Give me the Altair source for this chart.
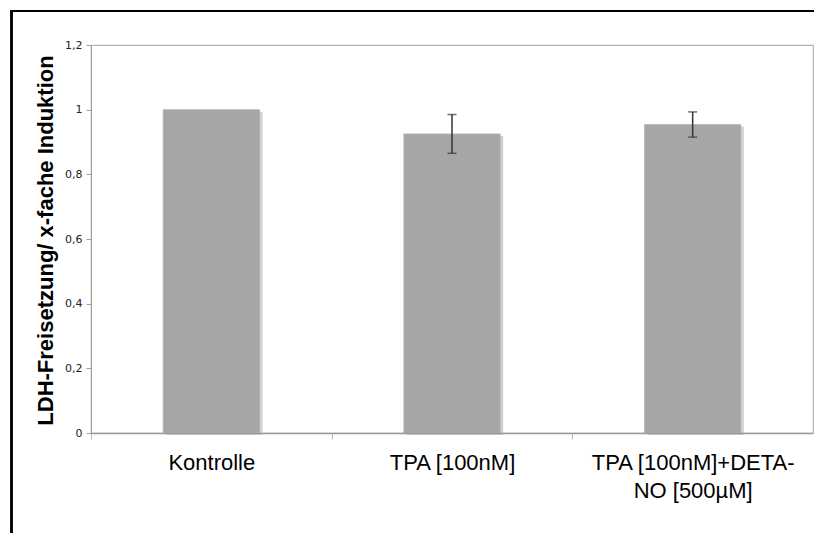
import altair as alt
import pandas as pd

# Treatment groups, fold induction of LDH release and their error margins
categories = ["Kontrolle", "TPA [100nM]", "TPA [100nM]+DETA-NO [500µM]"]
means = [1.0, 0.925, 0.954]
errors = [0.0, 0.06, 0.039]
y_ticks = [0, 0.2, 0.4, 0.6, 0.8, 1, 1.2]

df = pd.DataFrame({"gruppe": categories, "wert": means, "fehler": errors})
df["unten"] = df["wert"] - df["fehler"]
df["oben"] = df["wert"] + df["fehler"]
err_df = df[df["fehler"] > 0]

W, H = 722, 388
step = W / len(categories)

long_label = categories[2]
split_at = long_label.index("+DETA-") + len("+DETA-")
label_expr = (
    f"datum.label == '{long_label}' ? "
    f"['{long_label[:split_at]}', '{long_label[split_at:]}'] : datum.label"
)

x_enc = alt.X(
    "gruppe:N",
    sort=categories,
    scale=alt.Scale(paddingInner=0.6, paddingOuter=0.3),
    axis=alt.Axis(
        title=None,
        labelAngle=0,
        labelFont="Liberation Sans",
        labelFontSize=22,
        labelColor="#000000",
        labelPadding=13,
        labelLineHeight=28,
        labelLimit=400,
        labelExpr=label_expr,
        labelOffset=step / 2,
        tickOffset=-step / 2,
        tickSize=6,
        tickColor="#b8b8b8",
        domainColor="#9a9a9a",
        domainWidth=1.5,
        zindex=1,
    ),
)

y_scale = alt.Scale(domain=[0, 1.2], nice=False)
y_axis = alt.Axis(
    values=y_ticks,
    labelExpr="replace(toString(datum.value), '.', ',')",
    labelFont="DejaVu Sans",
    labelFontSize=11,
    labelColor="#222222",
    labelPadding=4,
    tickSize=5,
    tickColor="#a0a0a0",
    domainColor="#a0a0a0",
    grid=False,
    title="LDH-Freisetzung/ x-fache Induktion",
    titleFont="Liberation Sans",
    titleFontSize=22,
    titleFontWeight="bold",
    titleColor="#000000",
    titleAngle=-90,
    titleAlign="center",
    titleBaseline="middle",
    titleX=-46,
    titleY=195,
)

base = alt.Chart(df)

shadow = base.mark_bar(color="#d0d0d0", xOffset=3, yOffset=2).encode(
    x=x_enc, y=alt.Y("wert:Q", scale=y_scale, axis=y_axis)
)
bars = base.mark_bar(color="#a6a6a6", stroke="#b4b4b4", strokeWidth=0.8).encode(
    x=x_enc, y=alt.Y("wert:Q", scale=y_scale, axis=y_axis)
)

err_base = alt.Chart(err_df)
err_line = err_base.mark_rule(color="#333333", strokeWidth=1.5).encode(
    x=x_enc, y=alt.Y("unten:Q", scale=y_scale, axis=y_axis), y2="oben:Q"
)
cap_lo = err_base.mark_tick(color="#333333", size=9, thickness=1.5).encode(
    x=x_enc, y=alt.Y("unten:Q", scale=y_scale, axis=y_axis)
)
cap_hi = err_base.mark_tick(color="#333333", size=9, thickness=1.5).encode(
    x=x_enc, y=alt.Y("oben:Q", scale=y_scale, axis=y_axis)
)

# Black frame along the left and top edge of the figure
frame_left = alt.Chart(df).mark_rule(color="#000000", strokeWidth=2.2).encode(
    x=alt.value(-79.5), y=alt.value(-34), y2=alt.value(500)
)
frame_top = alt.Chart(df).mark_rule(color="#000000", strokeWidth=2.2).encode(
    x=alt.value(-80.6), x2=alt.value(730), y=alt.value(-34)
)

chart = (
    alt.layer(shadow, bars, err_line, cap_lo, cap_hi, frame_left, frame_top)
    .properties(
        width=W,
        height=H,
        autosize=alt.AutoSizeParams(type="none"),
        padding={"left": 91, "top": 45, "right": 1, "bottom": 100},
        background="#ffffff",
    )
    .configure_view(stroke="#b4b4b4", strokeWidth=1.2)
)

chart.save("out.html", embed_options={"renderer": "svg", "actions": False})
